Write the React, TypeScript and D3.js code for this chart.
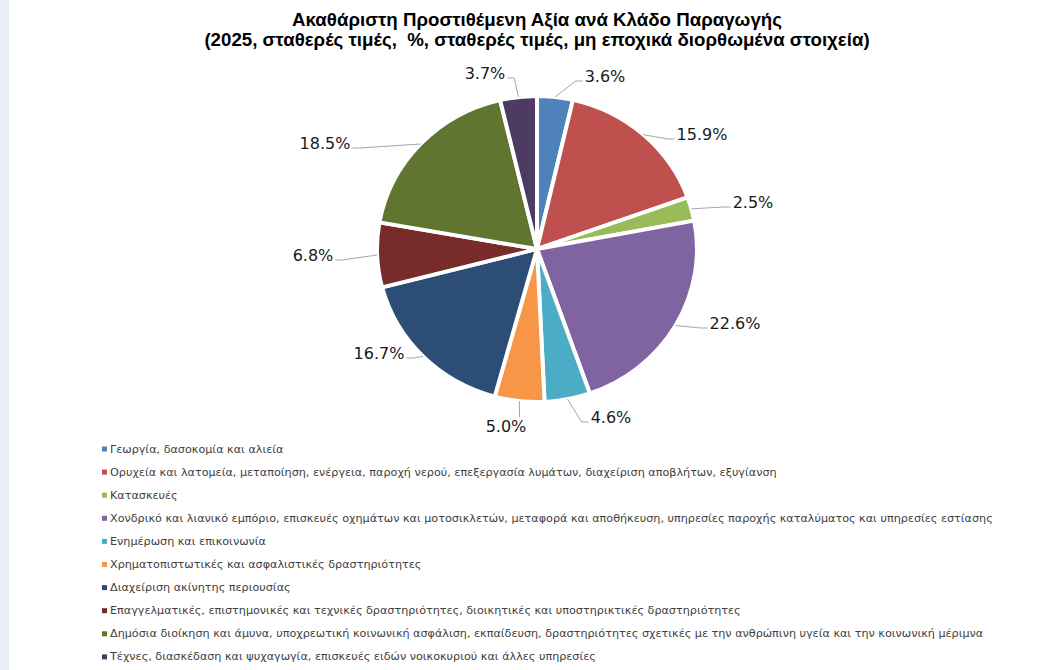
import React, { useEffect, useRef } from "react";
import * as d3 from "d3";

const titleLines = [
  "Ακαθάριστη Προστιθέμενη Αξία ανά Κλάδο Παραγωγής",
  "(2025, σταθερές τιμές,  %, σταθερές τιμές, μη εποχικά διορθωμένα στοιχεία)",
];

const categories = [
  "Γεωργία, δασοκομία και αλιεία",
  "Ορυχεία και λατομεία, μεταποίηση, ενέργεια, παροχή νερού, επεξεργασία λυμάτων, διαχείριση αποβλήτων, εξυγίανση",
  "Κατασκευές",
  "Χονδρικό και λιανικό εμπόριο, επισκευές οχημάτων και μοτοσικλετών, μεταφορά και αποθήκευση, υπηρεσίες παροχής καταλύματος και υπηρεσίες εστίασης",
  "Ενημέρωση και επικοινωνία",
  "Χρηματοπιστωτικές και ασφαλιστικές δραστηριότητες",
  "Διαχείριση ακίνητης περιουσίας",
  "Επαγγελματικές, επιστημονικές και τεχνικές δραστηριότητες, διοικητικές και υποστηρικτικές δραστηριότητες",
  "Δημόσια διοίκηση και άμυνα, υποχρεωτική κοινωνική ασφάλιση, εκπαίδευση, δραστηριότητες σχετικές με την ανθρώπινη υγεία και την κοινωνική μέριμνα",
  "Τέχνες, διασκέδαση και ψυχαγωγία, επισκευές ειδών νοικοκυριού και άλλες υπηρεσίες",
];

const values = [3.6, 15.9, 2.5, 22.6, 4.6, 5.0, 16.7, 6.8, 18.5, 3.7];

const colors = [
  "#4F81BD", "#C0504D", "#9BBB59", "#8064A2", "#4BACC6",
  "#F79646", "#2C4D75", "#772C2A", "#5F7530", "#4D3B62",
];

// label text-centre offsets from pie centre (layout)
const labelOffsets: [number, number][] = [
  [68, -173], [165, -115], [216, -47], [198, 74], [74, 168],
  [-31, 177], [-158, 104], [-224, 6], [-212, -106], [-52, -176],
];

const W = 1049;
const H = 670;

export default function App() {
  const ref = useRef<SVGSVGElement>(null);
  useEffect(() => {
    const svg = d3.select(ref.current);
    svg.selectAll("*").remove();

    svg.append("rect").attr("width", W).attr("height", H).attr("fill", "#ffffff");
    svg.append("rect").attr("width", 9).attr("height", H).attr("fill", "#E9EEF6");

    const title = svg.append("text")
      .attr("text-anchor", "middle")
      .attr("font-family", "'Liberation Sans', Arial, sans-serif")
      .attr("font-weight", "bold")
      .attr("font-size", 18.7)
      .attr("fill", "#000")
      .style("white-space", "pre");
    titleLines.forEach((t, i) => {
      title.append("tspan").attr("x", 537).attr("y", 26 + i * 20).text(t);
    });

    const cx = 537, cy = 249, r = 160, ry = 153;
    const sy = ry / r;
    const pie = d3.pie<number>().sort(null).value((d) => d);
    const arcs = pie(values);
    const arc = d3.arc<d3.PieArcDatum<number>>().innerRadius(0).outerRadius(r);

    const g = svg.append("g").attr("transform", `translate(${cx},${cy}) scale(1,${sy})`);
    g.selectAll("path")
      .data(arcs)
      .join("path")
      .attr("d", arc)
      .attr("fill", (_d, i) => colors[i])
      .attr("stroke", "#fff")
      .attr("stroke-width", 4)
      .attr("stroke-linejoin", "round");

    const lg = svg.append("g");
    const fmt = d3.format(".1f");
    arcs.forEach((a, i) => {
      const mid = (a.startAngle + a.endAngle) / 2;
      const ex = cx + r * Math.sin(mid);
      const ey = cy - ry * Math.cos(mid);
      const [ox, oy] = labelOffsets[i];
      const tx = cx + ox, ty = cy + oy;
      const text = lg.append("text")
        .attr("x", tx).attr("y", ty)
        .attr("text-anchor", "middle")
        .attr("dominant-baseline", "central")
        .attr("font-family", "'DejaVu Sans', sans-serif")
        .attr("font-size", 16)
        .attr("fill", "#1a1a1a")
        .text(fmt(values[i]) + "%");
      const w = (text.node() as SVGTextElement).getComputedTextLength();
      let pts: [number, number][];
      if (Math.abs(ox) < 40) {
        const ay = oy > 0 ? ty - 9 : ty + 9;
        pts = [[ex, ey], [ex, ay]];
      } else if (ox > 0) {
        const ax = tx - w / 2 - 2, ay = ty + 5;
        pts = [[ex, ey], [ax - 7, ay], [ax, ay]];
      } else {
        const ax = tx + w / 2 + 2, ay = ty + 5;
        pts = [[ex, ey], [ax + 7, ay], [ax, ay]];
      }
      lg.insert("path", "text")
        .attr("d", d3.line()(pts))
        .attr("fill", "none")
        .attr("stroke", "#A6A6A6")
        .attr("stroke-width", 1);
    });

    const leg = svg.append("g");
    categories.forEach((c, i) => {
      const y = 449 + i * 23.1;
      leg.append("rect").attr("x", 102).attr("y", y - 2.5).attr("width", 5).attr("height", 5).attr("fill", colors[i]);
      leg.append("text")
        .attr("x", 110).attr("y", y)
        .attr("dominant-baseline", "central")
        .attr("font-family", "'DejaVu Sans', sans-serif")
        .attr("font-size", 11.2)
        .attr("fill", "#404040")
        .text(c);
    });
  }, []);

  return (
    <svg ref={ref} width={W} height={H} style={{ position: "absolute", left: 0, top: 0 }} />
  );
}
